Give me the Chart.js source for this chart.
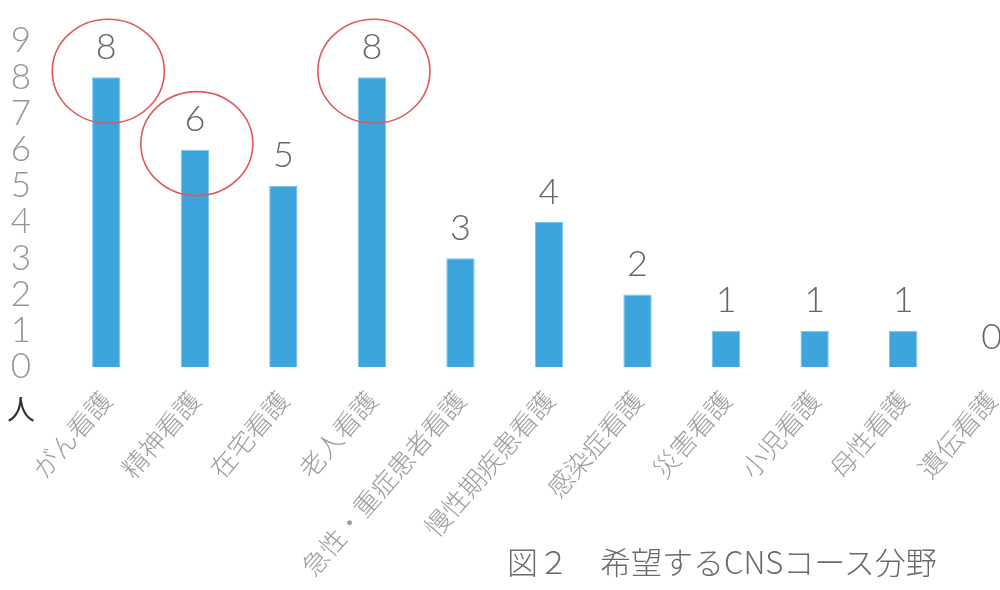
<!DOCTYPE html>
<html>
<head>
<meta charset="utf-8">
<script src="https://cdn.jsdelivr.net/npm/chart.js@4.4.1/dist/chart.umd.min.js"></script>
<style>
  body { margin: 0; background: #fff; overflow: hidden; }
  #wrap { position: relative; width: 1040px; height: 590px; }
  #caption {
    position: absolute; left: 507px; top: 538px;
    font-family: "Noto Sans CJK JP", sans-serif; font-size: 31px; font-weight: 300;
    color: #6a6a6a; white-space: nowrap;
  }
</style>
</head>
<body>
<div id="wrap">
  <canvas id="cns"></canvas>
  <div id="caption">図２　希望するCNSコース分野</div>
</div>
<script>
/************** data ****************/
const categories = ["がん看護", "精神看護", "在宅看護", "老人看護", "急性・重症患者看護",
    "慢性期疾患看護", "感染症看護", "災害看護", "小児看護", "母性看護", "遺伝看護"];
const counts = [8, 6, 5, 8, 3, 4, 2, 1, 1, 1, 0];
const yTicks = [0, 1, 2, 3, 4, 5, 6, 7, 8, 9];
const circled = ["がん看護", "精神看護", "老人看護"];
const unitLabel = "人";

/************** plugins ****************/
const valueLabels = {
    id: "valueLabels",
    afterDatasetsDraw(chart) {
        const ctx = chart.ctx;
        const meta = chart.getDatasetMeta(0);
        ctx.save();
        ctx.font = "300 36px Lato, 'Open Sans', sans-serif";
        ctx.fillStyle = "#666";
        ctx.textAlign = "center";
        ctx.textBaseline = "bottom";
        meta.data.forEach((bar, i) => {
            ctx.fillText(counts[i], bar.x, bar.y - 12);
        });
        ctx.restore();
    }
};

const marks = {
    id: "marks",
    afterDraw(chart) {
        const ctx = chart.ctx;
        const meta = chart.getDatasetMeta(0);
        ctx.save();
        ctx.strokeStyle = "#e05a5a";
        ctx.lineWidth = 1.6;
        circled.forEach(name => {
            const bar = meta.data[categories.indexOf(name)];
            ctx.beginPath();
            ctx.ellipse(bar.x + 2, bar.y - 6, 56, 52, 0, 0, Math.PI * 2);
            ctx.stroke();
        });
        // unit under the y axis
        const y = chart.scales.y;
        ctx.font = "28px 'Noto Sans CJK JP', sans-serif";
        ctx.fillStyle = "#333";
        ctx.textAlign = "center";
        ctx.textBaseline = "middle";
        ctx.fillText(unitLabel, 21, y.getPixelForValue(0) + 42);
        ctx.restore();
    }
};

/************** chart ****************/
const data = {
    labels: categories,
    datasets: [{
        data: counts,
        backgroundColor: "#3ea5dc",
        borderColor: "#78c6ee",
        borderWidth: 1,
        barPercentage: 0.32,
        categoryPercentage: 1.0
    }]
};

const config = {
    type: "bar",
    data: data,
    options: {
        responsive: true,
        maintainAspectRatio: false,
        animation: false,
        layout: { padding: { top: 41, right: 4, left: 0, bottom: 0 } },
        plugins: { legend: { display: false }, tooltip: { enabled: false } },
        scales: {
            x: {
                grid: { display: false, drawTicks: false },
                border: { display: false },
                ticks: {
                    autoSkip: false,
                    maxRotation: 49,
                    minRotation: 49,
                    padding: 18,
                    color: "#9c9c9c",
                    font: { family: "'Noto Sans CJK JP'", size: 26, weight: 300 }
                },
                afterFit(scale) { scale.height = 223; scale.paddingTop = 0; }
            },
            y: {
                min: 0,
                max: yTicks[yTicks.length - 1],
                grid: { display: false, drawTicks: false },
                border: { display: false },
                afterBuildTicks(scale) { scale.ticks = yTicks.map(v => ({ value: v })); },
                ticks: {
                    autoSkip: false,
                    padding: 31,
                    color: "#959595",
                    font: { family: "Lato, 'Open Sans'", size: 35, weight: 300 }
                },
                afterFit(scale) { scale.width = 62; scale.paddingTop = 0; }
            }
        }
    },
    plugins: [valueLabels, marks]
};

new Chart(document.getElementById("cns"), config);
</script>
</body>
</html>
